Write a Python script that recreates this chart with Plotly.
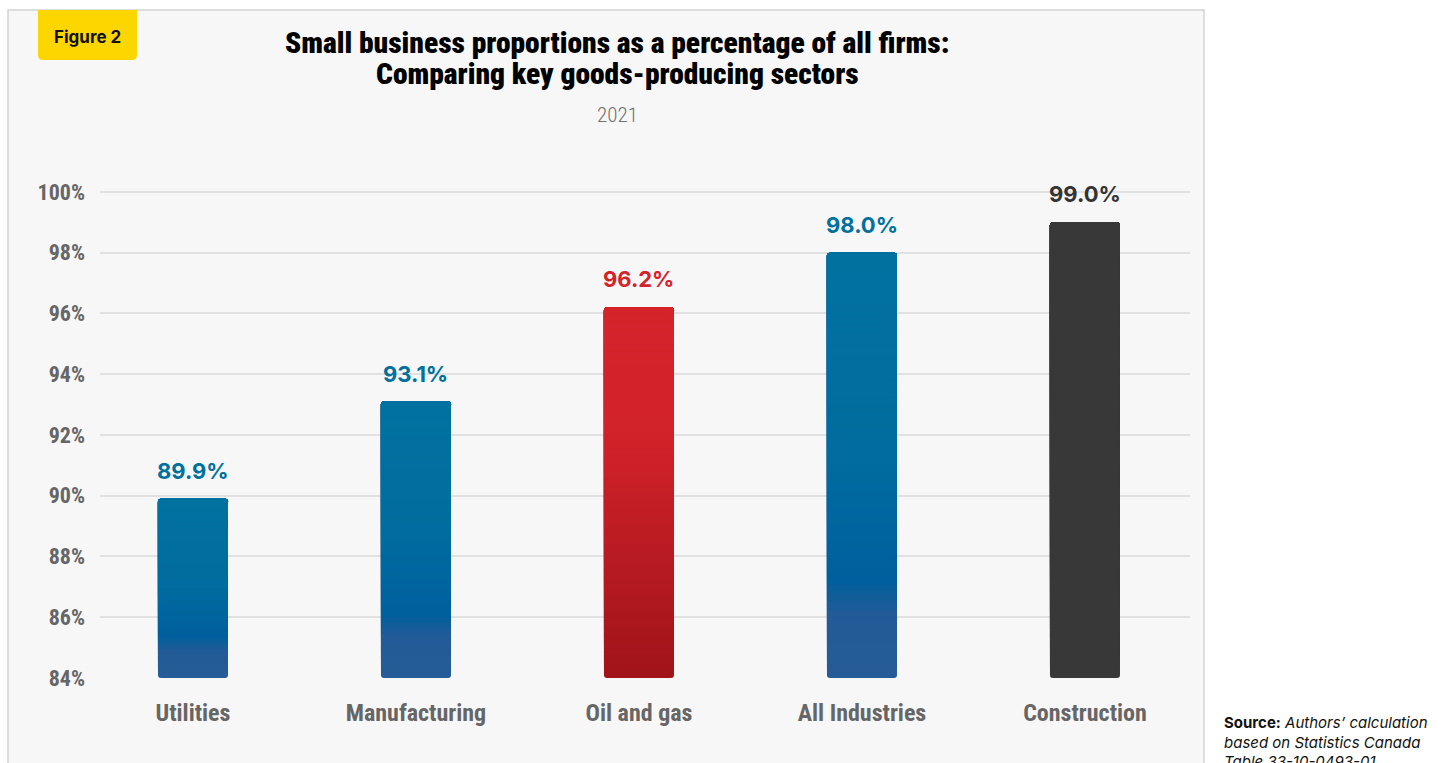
import plotly.graph_objects as go

# Sector data (2021)
sectors = ["Utilities", "Manufacturing", "Oil and gas", "All Industries", "Construction"]
small_share = [89.9, 93.1, 96.2, 98.0, 99.0]
bar_style = ["blue", "blue", "red", "blue", "dark"]
y_ticks = [84, 86, 88, 90, 92, 94, 96, 98, 100]

W, H = 1448, 763
AXIS_MIN = 84

# Vertical colour ramps per style: (fraction from top, hex colour)
RAMPS = {
    "blue": [(0.0, "#0172a0"), (0.5, "#006c9f"), (0.78, "#005f9e"), (0.86, "#225b97"), (1.0, "#255c98")],
    "red": [(0.0, "#d5232a"), (0.35, "#d2222a"), (1.0, "#a0141a")],
    "dark": [(0.0, "#383838"), (1.0, "#383838")],
}
LABEL_COLORS = {"blue": "#00709e", "red": "#d4232a", "dark": "#333333"}


def hex_to_rgb(h):
    h = h.lstrip("#")
    return tuple(int(h[i:i + 2], 16) for i in (0, 2, 4))


def ramp_color(style, f):
    stops = RAMPS[style]
    for (f0, c0), (f1, c1) in zip(stops[:-1], stops[1:]):
        if f0 <= f <= f1:
            t = 0 if f1 == f0 else (f - f0) / (f1 - f0)
            a, b = hex_to_rgb(c0), hex_to_rgb(c1)
            return "rgb(%d,%d,%d)" % tuple(round(a[k] + (b[k] - a[k]) * t) for k in range(3))
    return stops[-1][1]


def px(x):
    return x / W


def py(y):
    return 1 - y / H


fig = go.Figure()

# Each bar is layered bottom-up so the colour shifts smoothly from base to top
N_STEPS = 50
for i in range(N_STEPS):
    frac_from_bottom = i / N_STEPS
    bases = [AXIS_MIN + (v - AXIS_MIN) * frac_from_bottom for v in small_share]
    heights = [v - b for v, b in zip(small_share, bases)]
    colors = [ramp_color(s, 1 - frac_from_bottom) for s in bar_style]
    fig.add_trace(go.Bar(
        x=list(range(len(sectors))), y=heights, base=bases,
        marker=dict(color=colors, line=dict(width=0), cornerradius=3),
        width=0.314, hoverinfo="skip", showlegend=False,
    ))

# Value labels above bars
for i, (v, s) in enumerate(zip(small_share, bar_style)):
    fig.add_annotation(
        x=i, y=v, text=f"{v:.1f}%", showarrow=False, xanchor="center", yanchor="middle", yshift=28,
        font=dict(family="Inter, Noto Sans, sans-serif", size=22, color=LABEL_COLORS[s], weight=700),
    )

COND = "Roboto Condensed, Open Sans, sans-serif"
title_lines = ["Small business proportions as a percentage of all firms:",
               "Comparing key goods-producing sectors"]

shapes = [
    # Chart panel
    dict(type="rect", xref="paper", yref="paper", x0=px(8), x1=px(1204), y0=py(790), y1=py(10),
         line=dict(color="#d3d3d3", width=1.5), fillcolor="#f7f7f7", layer="below"),
    # Figure badge with rounded lower corners
    dict(type="path", xref="paper", yref="paper", layer="above", line=dict(width=0), fillcolor="#fdd600",
         path=(f"M {px(38)} {py(10)} L {px(137)} {py(10)} L {px(137)} {py(55)} "
               f"Q {px(137)} {py(60)} {px(132)} {py(60)} L {px(43)} {py(60)} "
               f"Q {px(38)} {py(60)} {px(38)} {py(55)} Z")),
]

annotations = [
    dict(text="Figure 2", x=px(87), y=py(37), xref="paper", yref="paper", showarrow=False,
         xanchor="center", yanchor="middle",
         font=dict(family="Inter, Noto Sans, sans-serif", size=17, color="#111111", weight=700)),
    dict(text="2021", x=px(617), y=py(115), xref="paper", yref="paper", showarrow=False,
         xanchor="center", yanchor="middle",
         font=dict(family=COND, size=21, color="#707070", weight=300)),
    dict(text="<b>Source:</b> <i>Authors’ calculation<br>based on Statistics Canada<br>Table 33-10-0493-01</i>",
         x=px(1222), y=py(711), xref="paper", yref="paper", showarrow=False,
         xanchor="left", yanchor="top", align="left",
         font=dict(family="Inter, Noto Sans, sans-serif", size=15, color="#111111")),
]
for line, yc in zip(title_lines, [43, 74]):
    annotations.append(dict(
        text=line, x=px(617), y=py(yc), xref="paper", yref="paper", showarrow=False,
        xanchor="center", yanchor="middle",
        font=dict(family=COND, size=29.5, color="#000000", weight=900)))

y_lo_px, y_hi_px = 678, 146.4
fig.update_layout(
    width=W, height=H,
    margin=dict(l=0, r=0, t=0, b=0, autoexpand=False),
    paper_bgcolor="#ffffff", plot_bgcolor="rgba(0,0,0,0)",
    barmode="overlay",
    shapes=shapes, annotations=fig.layout.annotations + tuple(annotations),
    xaxis=dict(
        domain=[px(100), px(1190)], range=[-0.417, 4.471], automargin=False,
        tickvals=list(range(len(sectors))), ticktext=sectors,
        showgrid=False, zeroline=False, showline=False, ticks="", ticklabelstandoff=18,
        tickfont=dict(family=COND, size=24, color="#666666", weight=700),
    ),
    yaxis=dict(
        domain=[1 - y_lo_px / H, 1 - y_hi_px / H], range=[84, 101.5], automargin=False,
        tickvals=y_ticks, ticktext=[f"{t}%" for t in y_ticks],
        showgrid=True, gridcolor="#e1e1e1", gridwidth=1.5, zeroline=False, showline=False,
        ticks="", ticklabelstandoff=14,
        tickfont=dict(family=COND, size=22, color="#666666", weight=700),
    ),
)

fig.write_html("out.html")
